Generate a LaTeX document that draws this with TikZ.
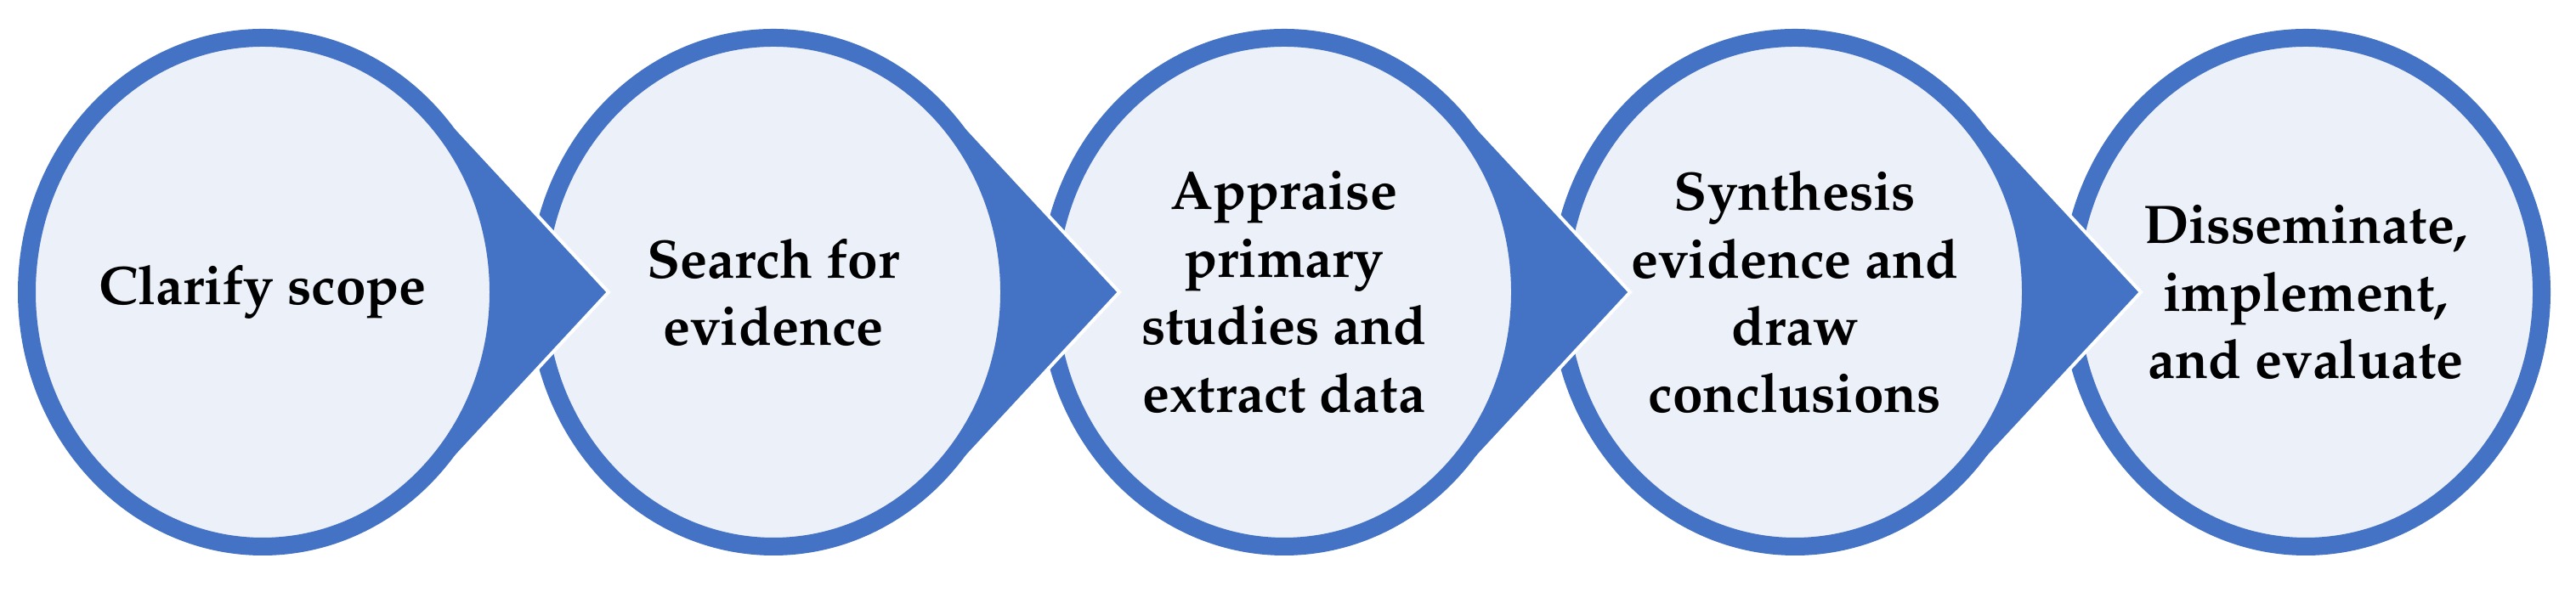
\documentclass[tikz,border=0pt]{standalone}
\usepackage[T1]{fontenc}
\usepackage{mathpazo}
\usetikzlibrary{shapes.geometric,calc}
\definecolor{myblue}{RGB}{68,114,196}
\definecolor{mylight}{RGB}{235,240,249}
\begin{document}
\begin{tikzpicture}[
  stage/.style={ellipse, draw=myblue, fill=mylight, line width=0.21cm,
    minimum width=5.55cm, minimum height=5.99cm, inner sep=0pt,
    align=center, text=black,
    font=\fontsize{18.2}{22.6}\selectfont\bfseries},
  chev/.style={fill=myblue, draw=white, line width=0.04cm, line join=miter}
]
\useasboundingbox (0,0) rectangle (30.31,6.97);
% drawn from right to left so each arrow lies over the next circle
\node[stage] (c5) at (27.13,3.53) {Disseminate,\\implement,\\and evaluate};
\fill[chev] ($(c5.center)+(-1.94,0)$) -- ($(c5.center)+(-3.97,2.19)$)
  -- ($(c5.center)+(-6.01,0)$) -- ($(c5.center)+(-3.97,-2.19)$) -- cycle;
\node[stage] (c4) at (21.12,3.53) {Synthesis\\evidence and\\draw\\conclusions};
\fill[chev] ($(c4.center)+(-1.94,0)$) -- ($(c4.center)+(-3.97,2.19)$)
  -- ($(c4.center)+(-6.01,0)$) -- ($(c4.center)+(-3.97,-2.19)$) -- cycle;
\node[stage] (c3) at (15.11,3.53) {Appraise\\primary\\studies and\\extract data};
\fill[chev] ($(c3.center)+(-1.94,0)$) -- ($(c3.center)+(-3.97,2.19)$)
  -- ($(c3.center)+(-6.01,0)$) -- ($(c3.center)+(-3.97,-2.19)$) -- cycle;
\node[stage] (c2) at (9.10,3.53) {Search for\\evidence};
\fill[chev] ($(c2.center)+(-1.94,0)$) -- ($(c2.center)+(-3.97,2.19)$)
  -- ($(c2.center)+(-6.01,0)$) -- ($(c2.center)+(-3.97,-2.19)$) -- cycle;
\node[stage] (c1) at (3.09,3.53) {Clarify scope};
\end{tikzpicture}
\end{document}
